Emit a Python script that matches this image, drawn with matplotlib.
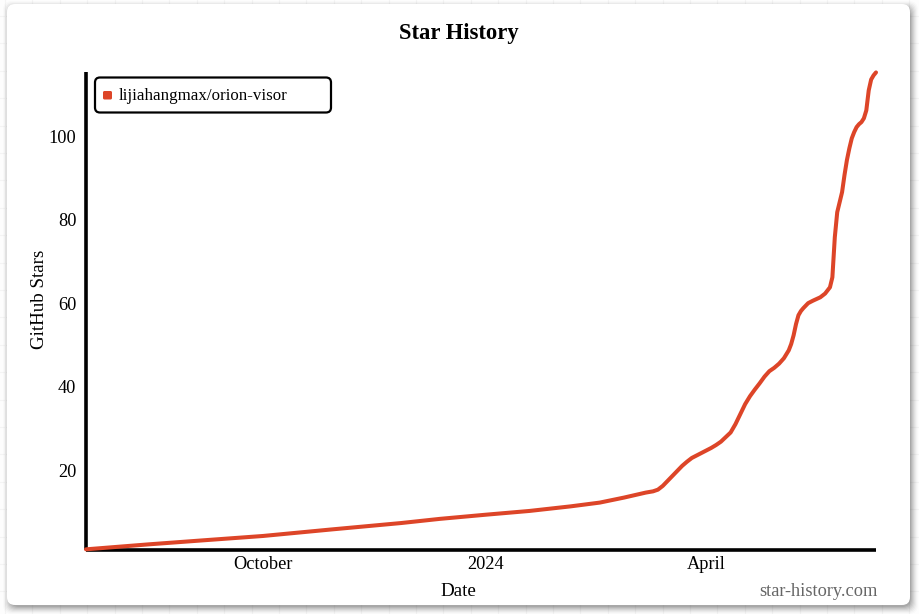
import matplotlib
matplotlib.use("Agg")
import matplotlib.pyplot as plt
from matplotlib.patches import FancyBboxPatch
import numpy as np
import pandas as pd

plt.rcParams['font.family'] = ['Liberation Serif', 'DejaVu Serif']

repo = "lijiahangmax/orion-visor"

dates = ["2023-07-20", "2023-08-15", "2023-09-05", "2023-10-01", "2023-10-29",
         "2023-11-27", "2023-12-13", "2024-01-01", "2024-01-19", "2024-02-05",
         "2024-02-17", "2024-02-27", "2024-03-07", "2024-03-10", "2024-03-12",
         "2024-03-14", "2024-03-16", "2024-03-18", "2024-03-20", "2024-03-22",
         "2024-03-24", "2024-03-26", "2024-03-28", "2024-03-30", "2024-04-01",
         "2024-04-03", "2024-04-05", "2024-04-07", "2024-04-09", "2024-04-11",
         "2024-04-13", "2024-04-15", "2024-04-17", "2024-04-19", "2024-04-21",
         "2024-04-23", "2024-04-25", "2024-04-27", "2024-04-29", "2024-05-01",
         "2024-05-03", "2024-05-05", "2024-05-06", "2024-05-07", "2024-05-08",
         "2024-05-09", "2024-05-10", "2024-05-11", "2024-05-13", "2024-05-15",
         "2024-05-18", "2024-05-20", "2024-05-22", "2024-05-23", "2024-05-24",
         "2024-05-25", "2024-05-26", "2024-05-27", "2024-05-28", "2024-05-29",
         "2024-05-30", "2024-05-31", "2024-06-01", "2024-06-02", "2024-06-03",
         "2024-06-04", "2024-06-05", "2024-06-06", "2024-06-07", "2024-06-08",
         "2024-06-09", "2024-06-10"]
stars = [1.0, 2.2, 3.1, 4.2, 5.75,
         7.3, 8.3, 9.3, 10.2, 11.3,
         12.2, 13.4, 14.6, 14.9, 15.3,
         16.2, 17.4, 18.6, 19.8, 21.0,
         22.0, 22.9, 23.5, 24.1, 24.7,
         25.3, 26.0, 26.8, 27.9, 29.0,
         31.0, 33.4, 35.8, 37.7, 39.3,
         40.8, 42.4, 43.7, 44.5, 45.5,
         46.8, 48.7, 50.2, 52.3, 55.0,
         57.1, 58.1, 58.8, 60.0, 60.6,
         61.4, 62.3, 63.8, 66.2, 75.8,
         81.8, 84.2, 86.6, 90.7, 94.3,
         97.1, 99.5, 101.0, 102.2, 102.9,
         103.4, 104.3, 106.2, 111.0, 113.6,
         114.6, 115.3]

y_ticks = [20, 40, 60, 80, 100]
x_ticks = ["2023-10-01", "2024-01-01", "2024-04-01"]
x_labels = ["October", "2024", "April"]

W, H = 919, 614
RED = "#dd4528"

fig = plt.figure(figsize=(W / 100, H / 100), dpi=100, facecolor="#fdfdfd")

# page background + card, in pixel coords
bg = fig.add_axes([0, 0, 1, 1])
bg.set_xlim(0, W)
bg.set_ylim(H, 0)
bg.axis("off")
for gx in np.arange(5, W, 27.4):
    bg.axvline(gx, color="#f4f4f4", lw=0.8, zorder=0)
for gy in np.arange(16, H, 27.4):
    bg.axhline(gy, color="#f4f4f4", lw=0.8, zorder=0)

# soft shadow, heavier to the lower right
for grow, a in zip([7, 6, 5, 4, 3, 2, 1, 0], [0.02, 0.03, 0.05, 0.06, 0.08, 0.09, 0.11, 0.13]):
    bg.add_patch(FancyBboxPatch((7 - grow + 3, 4 - grow + 4), 903 + 2 * grow - 2, 601 + 2 * grow - 2,
                                boxstyle="round,pad=0,rounding_size=9", fc="#444444", ec="none",
                                alpha=a, zorder=1))
bg.add_patch(FancyBboxPatch((7, 4), 903, 601, boxstyle="round,pad=0,rounding_size=8",
                            fc="white", ec="none", zorder=2))

# legend box
bg.add_patch(FancyBboxPatch((95, 77.5), 236, 35, boxstyle="round,pad=0,rounding_size=5",
                            fc="white", ec="black", lw=1.6, zorder=5))
bg.add_patch(FancyBboxPatch((103, 91), 9, 8.5, boxstyle="round,pad=0,rounding_size=1.5",
                            fc=RED, ec="none", zorder=6))
bg.text(119, 95.5, repo, fontsize=12.15, va="center", ha="left", color="black", zorder=6)

bg.text(458.5, 33, "Star History", fontsize=16.3, fontweight="bold", ha="center", va="center", zorder=6)
bg.text(458, 591, "Date", fontsize=13.7, ha="center", va="center", zorder=6)
bg.text(39, 299, "GitHub Stars", fontsize=13.7, rotation=90, ha="center", va="center", zorder=6)
bg.text(878, 591, "star-history.com", fontsize=13.2, ha="right", va="center", color="#666666", zorder=6)

left, right, top, bottom = 86, 876, 72, 549.5
ax = fig.add_axes([left / W, 1 - bottom / H, (right - left) / W, (bottom - top) / H])
ax.patch.set_alpha(0)
x = pd.to_datetime(dates)
ax.plot(x, stars, color=RED, lw=2.9, solid_capstyle="round", solid_joinstyle="round",
        clip_on=False, zorder=3)
ax.set_xlim(pd.Timestamp("2023-07-20"), pd.Timestamp("2024-06-10"))
ax.set_ylim(0.96, 115.4)

ax.set_yticks(y_ticks)
ax.set_xticks(pd.to_datetime(x_ticks))
ax.set_xticklabels(x_labels)
ax.tick_params(axis="both", length=0, labelsize=13.2)
ax.tick_params(axis="y", pad=7)
ax.tick_params(axis="x", pad=5)

for s in ["top", "right"]:
    ax.spines[s].set_visible(False)
for s in ["left", "bottom"]:
    ax.spines[s].set_linewidth(2.6)
    ax.spines[s].set_color("black")
    ax.spines[s].set_capstyle("butt")

fig.savefig("out.png", dpi=100, facecolor=fig.get_facecolor())
